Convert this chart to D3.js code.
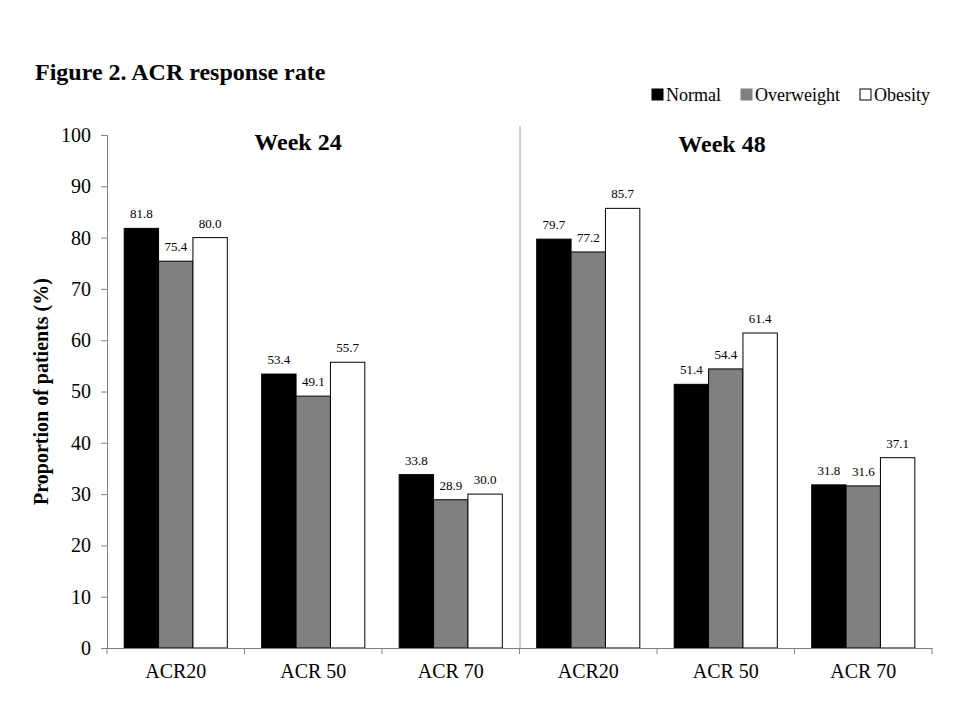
<!DOCTYPE html>
<html>
<head>
<meta charset="utf-8">
<script src="https://cdn.jsdelivr.net/npm/d3@7"></script>
<style>
  body { margin: 0; background: #fff; }
  svg text { font-family: "Liberation Serif", "Times New Roman", serif; }
</style>
</head>
<body>
<div id="chart"></div>
<script>
var categories = ['ACR20', 'ACR 50', 'ACR 70', 'ACR20 ', 'ACR 50 ', 'ACR 70 '];
var seriesNames = ['Normal', 'Overweight', 'Obesity'];
var normal = [81.8, 53.4, 33.8, 79.7, 51.4, 31.8];
var overweight = [75.4, 49.1, 28.9, 77.2, 54.4, 31.6];
var obesity = [80.0, 55.7, 30.0, 85.7, 61.4, 37.1];
var yTicks = [0, 10, 20, 30, 40, 50, 60, 70, 80, 90, 100];
var periods = ['Week 24', 'Week 48'];

var svgWidth = 960, svgHeight = 720;
var plotLeft = 107, plotRight = 932, plotTop = 135, plotBottom = 648;
var colors = ['#000000', '#808080', '#ffffff'];

var svg = d3.select('#chart').append('svg').attr('width', svgWidth).attr('height', svgHeight);

var x = d3.scaleBand().domain(categories).range([plotLeft, plotRight]).paddingInner(0).paddingOuter(0);
var xs = d3.scaleBand().domain(seriesNames).range([0, x.bandwidth()]).paddingInner(0).paddingOuter(0.5);
var y = d3.scaleLinear().domain([0, 100]).range([plotBottom, plotTop]);

var series = [normal, overweight, obesity];
var rows = [];
categories.forEach(function (c, i) {
	seriesNames.forEach(function (s, j) {
		rows.push({cat: c, name: s, value: series[j][i], color: colors[j]});
	});
});

// title
svg.append('text').attr('x', 35).attr('y', 80)
	.style('font-size', '24px').style('font-weight', 'bold').text('Figure 2. ACR response rate');

// divider between weeks
svg.append('line')
	.attr('x1', x(categories[3]) + 0.5).attr('x2', x(categories[3]) + 0.5)
	.attr('y1', 126).attr('y2', plotBottom)
	.attr('stroke', '#a0a0a0').attr('stroke-width', 1);

// bars
svg.selectAll('rect.bar').data(rows).enter().append('rect')
	.attr('class', 'bar')
	.attr('x', function (d) { return x(d.cat) + xs(d.name); })
	.attr('y', function (d) { return y(d.value); })
	.attr('width', xs.bandwidth())
	.attr('height', function (d) { return y(0) - y(d.value); })
	.attr('fill', function (d) { return d.color; })
	.attr('stroke', '#000').attr('stroke-width', 1);

// value labels
svg.selectAll('text.val').data(rows).enter().append('text')
	.attr('class', 'val')
	.attr('x', function (d) { return x(d.cat) + xs(d.name) + xs.bandwidth() / 2; })
	.attr('y', function (d) { return y(d.value) - 10; })
	.attr('text-anchor', 'middle')
	.style('font-size', '13px')
	.text(function (d) { return d.value.toFixed(1); });

// y axis
var yAxis = svg.append('g').attr('transform', 'translate(' + plotLeft + ',0)')
	.call(d3.axisLeft(y).tickValues(yTicks).tickSize(6).tickPadding(10));
yAxis.select('.domain').attr('stroke', '#808080');
yAxis.selectAll('.tick line').attr('stroke', '#808080');
yAxis.selectAll('.tick text').style('font-size', '20px').attr('fill', '#000')
	.style('font-family', '"Liberation Serif", serif');

// x axis
var xAxis = svg.append('g').attr('transform', 'translate(0,' + plotBottom + ')')
	.call(d3.axisBottom(x).tickSize(0).tickPadding(16).tickFormat(function (d) { return d.trim(); }));
xAxis.select('.domain').attr('stroke', '#808080');
xAxis.selectAll('.tick text').style('font-size', '20px').attr('fill', '#000')
	.style('font-family', '"Liberation Serif", serif');
svg.selectAll('line.xtick').data(categories.concat(['end'])).enter().append('line')
	.attr('class', 'xtick')
	.attr('x1', function (d, i) { return i < categories.length ? x(d) : plotRight; })
	.attr('x2', function (d, i) { return i < categories.length ? x(d) : plotRight; })
	.attr('y1', plotBottom).attr('y2', plotBottom + 6)
	.attr('stroke', '#808080');

// y axis title
svg.append('text')
	.attr('transform', 'translate(48,' + ((plotTop + plotBottom) / 2) + ') rotate(-90)')
	.attr('text-anchor', 'middle')
	.style('font-size', '20px').style('font-weight', 'bold')
	.text('Proportion of patients (%)');

// week labels
svg.selectAll('text.week').data(periods).enter().append('text')
	.attr('class', 'week')
	.attr('x', function (d, i) { return i === 0 ? 298 : 722; })
	.attr('y', function (d, i) { return i === 0 ? 150 : 152; })
	.attr('text-anchor', 'middle')
	.style('font-size', '24px').style('font-weight', 'bold')
	.text(function (d) { return d; });

// legend
var legendX = [652, 741, 860];
var legend = svg.selectAll('g.leg').data(seriesNames).enter().append('g')
	.attr('class', 'leg')
	.attr('transform', function (d, i) { return 'translate(' + legendX[i] + ',89)'; });
legend.append('rect').attr('width', 11).attr('height', 11)
	.attr('fill', function (d, i) { return colors[i]; })
	.attr('stroke', function (d, i) { return i === 1 ? '#808080' : '#000'; });
legend.append('text').attr('x', 14).attr('y', 12)
	.style('font-size', '18px').text(function (d) { return d; });
</script>
</body>
</html>
